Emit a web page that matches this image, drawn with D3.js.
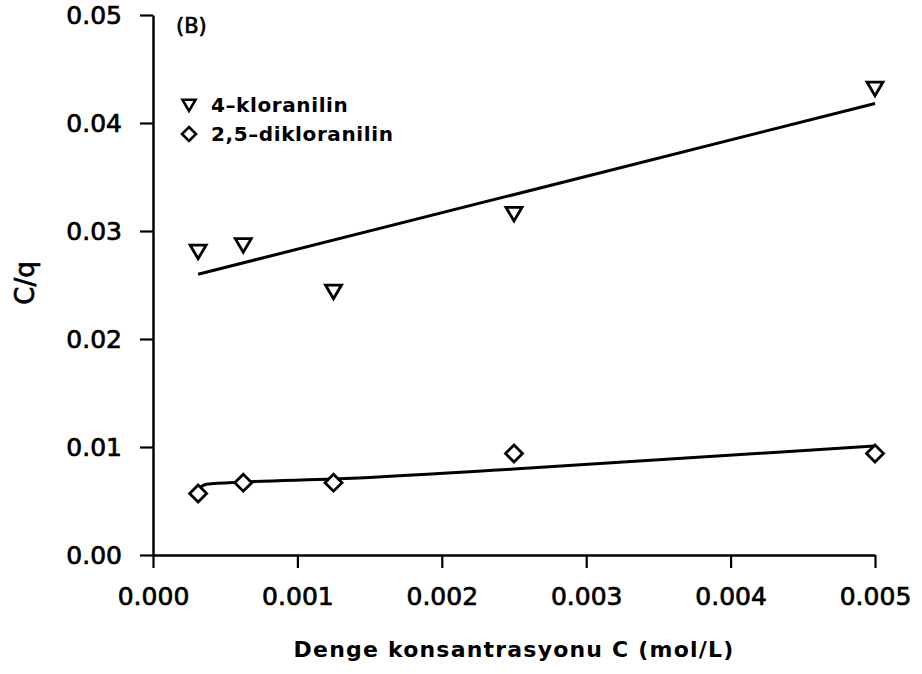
<!DOCTYPE html>
<html>
<head>
<meta charset="utf-8">
<script src="https://cdn.jsdelivr.net/npm/d3@7"></script>
<style>
  html, body { margin: 0; padding: 0; background: #fff; }
  svg { display: block; }
  text { font-family: "DejaVu Sans", sans-serif; fill: #000; }
</style>
</head>
<body>
<svg id="chart" width="922" height="674"></svg>
<script>
// Equilibrium concentration C (mol/L)
const concentrations = [0.0003125, 0.000625, 0.00125, 0.0025, 0.005];

// C/q measured values
const kloranilin = [0.0281, 0.0287, 0.0244, 0.0316, 0.0432];
const dikloranilin = [0.0057, 0.0067, 0.0067, 0.0094, 0.0094];

// Fitted lines
const kloranilinFitX = [0.0003125, 0.005];
const kloranilinFitY = [0.0260, 0.0418];
const dikloranilinFitX = [0.0003125, 0.00037, 0.000625, 0.00125, 0.0025, 0.005];
const dikloranilinFitY = [0.0061, 0.00655, 0.00676, 0.00704, 0.00796, 0.0101];

// Axis ticks
const xTicks = [0, 0.001, 0.002, 0.003, 0.004, 0.005];
const yTicks = [0, 0.01, 0.02, 0.03, 0.04, 0.05];

const legendLabels = ["4–kloranilin", "2,5–dikloranilin"];

const svg = d3.select("#chart");
const x = d3.scaleLinear().domain([0, 0.005]).range([153, 875]);
const y = d3.scaleLinear().domain([0, 0.05]).range([555, 15]);

// Axes
const xAxis = svg.append("g")
  .attr("transform", `translate(0,${y(0)})`)
  .call(d3.axisBottom(x).tickValues(xTicks).tickFormat(d3.format(".3f"))
    .tickSize(13).tickSizeOuter(0).tickPadding(19));
const yAxis = svg.append("g")
  .attr("transform", `translate(${x(0)},0)`)
  .call(d3.axisLeft(y).tickValues(yTicks).tickFormat(d3.format(".2f"))
    .tickSize(13).tickSizeOuter(0).tickPadding(18));

// Medium-weight text: regular face with a thin outline
const medium = sel => sel.attr("stroke", "#000").attr("stroke-width", 0.7);

[xAxis, yAxis].forEach(g => {
  g.select(".domain").attr("stroke", "#000").attr("stroke-width", 2.5);
  g.selectAll(".tick line").attr("stroke", "#000").attr("stroke-width", 2.2);
  g.selectAll(".tick text")
    .attr("font-family", "DejaVu Sans, sans-serif")
    .attr("font-size", 25)
    .attr("fill", "#000")
    .call(medium);
});
xAxis.selectAll(".tick text").attr("dy", "0.71em");

// Axis titles
svg.append("text")
  .attr("x", 514).attr("y", 657)
  .attr("text-anchor", "middle")
  .attr("font-size", 22).attr("font-weight", "bold")
  .attr("letter-spacing", 1.2)
  .text("Denge konsantrasyonu C (mol/L)");

svg.append("text")
  .attr("transform", `translate(34,283) rotate(-90)`)
  .attr("text-anchor", "middle")
  .attr("font-size", 26)
  .call(medium)
  .text("C/q");

svg.append("text")
  .attr("x", 176).attr("y", 33)
  .attr("font-size", 21)
  .call(medium)
  .text("(B)");

// Marker shapes
const triPath = s => `M${-s},${-s * 0.8}L${s},${-s * 0.8}L0,${s * 0.9}Z`;
const diaPath = s => `M0,${-s}L${s},0L0,${s}L${-s},0Z`;

// Fitted lines
const line = d3.line().x(d => x(d[0])).y(d => y(d[1]));
svg.append("path")
  .datum(d3.zip(kloranilinFitX, kloranilinFitY))
  .attr("d", line)
  .attr("fill", "none").attr("stroke", "#000").attr("stroke-width", 3);
svg.append("path")
  .datum(d3.zip(dikloranilinFitX, dikloranilinFitY))
  .attr("d", line.curve(d3.curveMonotoneX))
  .attr("fill", "none").attr("stroke", "#000").attr("stroke-width", 3);

// Data points
svg.append("g").selectAll("path")
  .data(d3.zip(concentrations, kloranilin))
  .join("path")
  .attr("transform", d => `translate(${x(d[0])},${y(d[1])})`)
  .attr("d", triPath(8))
  .attr("fill", "#fff").attr("stroke", "#000").attr("stroke-width", 2.8)
  .attr("stroke-linejoin", "miter");

svg.append("g").selectAll("path")
  .data(d3.zip(concentrations, dikloranilin))
  .join("path")
  .attr("transform", d => `translate(${x(d[0])},${y(d[1])})`)
  .attr("d", diaPath(8.5))
  .attr("fill", "#fff").attr("stroke", "#000").attr("stroke-width", 2.8);

// Legend
const legend = svg.append("g");
const legendY = [105, 134];
legend.append("path")
  .attr("transform", `translate(189,${legendY[0]})`)
  .attr("d", triPath(6.5))
  .attr("fill", "#fff").attr("stroke", "#000").attr("stroke-width", 2.6);
legend.append("path")
  .attr("transform", `translate(189,${legendY[1]})`)
  .attr("d", diaPath(7))
  .attr("fill", "#fff").attr("stroke", "#000").attr("stroke-width", 2.6);
legendLabels.forEach((t, i) => {
  legend.append("text")
    .attr("x", 211).attr("y", legendY[i])
    .attr("dy", "0.36em")
    .attr("font-size", 20).attr("font-weight", "bold")
    .attr("letter-spacing", 0.6)
    .text(t);
});
</script>
</body>
</html>
